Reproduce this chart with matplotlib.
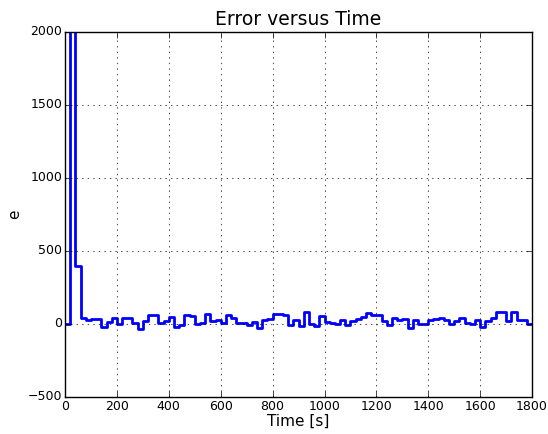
import matplotlib
matplotlib.use("Agg")
import matplotlib.pyplot as plt
import numpy as np

step = 20
values = [0, 3500, 400, 40, 25, 35, 35, -20, 15, 40,
          0, 40, 40, 10, -35, 20, 60, 60, 10, 20,
          50, -20, -10, 60, 55, 0, 10, 70, 20, 30,
          10, 60, 40, 10, 5, -10, 15, -30, 25, 35,
          65, 70, 60, -10, 25, -15, 80, 0, -15, 55,
          15, 5, 0, 25, -5, 20, 35, 50, 75, 60,
          60, 20, -10, 40, 25, 35, -30, 25, 0, 0,
          30, 35, 40, 25, 0, 20, 40, 10, 0, 25,
          -20, 20, 40, 80, 85, 20, 85, 25, 25, 0]
times = [i * step for i in range(len(values) + 1)]
vals = values + [values[-1]]

plt.style.use('classic')
fig = plt.figure(figsize=(5.48, 4.34), dpi=100, facecolor='white')
ax = fig.add_axes([0.1186, 0.0853, 0.8524, 0.8410])
ax.plot(times, vals, drawstyle='steps-post', color='blue', linewidth=2)
ax.set_xlim(0, 1800)
ax.set_ylim(-500, 2000)
ax.set_xticks(np.arange(0, 1801, 200))
ax.set_yticks(np.arange(-500, 2001, 500))
ax.grid(True)
ax.set_title('Error versus Time', fontsize=13.5)
ax.tick_params(labelsize=9, pad=2)
ax.set_xlabel('Time [s]', fontsize=11, labelpad=1)
ax.set_ylabel('e', fontsize=11, labelpad=4)
fig.savefig('out.png', dpi=100, facecolor='white')
